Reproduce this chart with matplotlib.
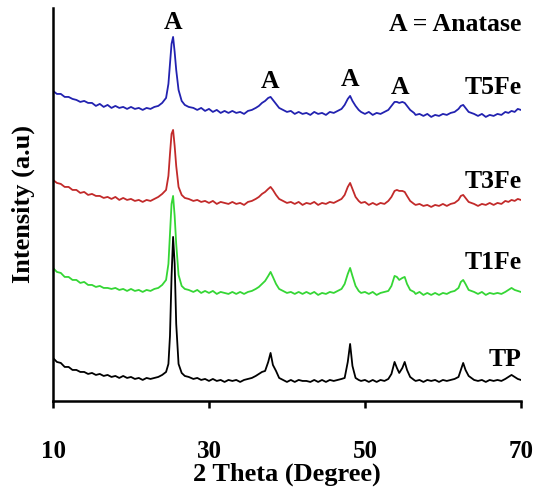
import matplotlib
matplotlib.use("Agg")
import matplotlib.pyplot as plt

plt.rcParams['font.family'] = ['Liberation Serif', 'DejaVu Serif']
plt.rcParams['font.weight'] = 'bold'

# 2 theta grid (degree)
two_theta = [
    10, 10.5, 11, 11.5, 12, 12.5, 13, 13.5, 14, 14.5, 15, 15.5, 16, 16.5, 17,
    17.5, 18, 18.5, 19, 19.5, 20, 20.5, 21, 21.5, 22, 22.5, 23, 23.5, 24,
    24.5, 24.8, 25.0, 25.2, 25.4, 25.6, 25.8, 26.1, 26.5, 26.9, 27.4,
    28, 28.5, 29, 29.5, 30, 30.5, 31, 31.5, 32, 32.5, 33, 33.5, 34, 34.5, 35, 35.5, 36,
    36.4, 36.8, 37.2, 37.6, 37.9, 38.2, 38.6, 39.0,
    39.5, 40, 40.5, 41, 41.5, 42, 42.5, 43, 43.5, 44, 44.5, 45, 45.5, 46, 46.5, 47,
    47.4, 47.8, 48.1, 48.4, 48.8, 49.2,
    49.5, 50, 50.5, 51, 51.5, 52, 52.5,
    53.0, 53.4, 53.8, 54.1, 54.4, 54.8, 55.1, 55.4, 55.8, 56.3,
    56.5, 57, 57.5, 58, 58.5, 59, 59.5, 60, 60.5, 61, 61.5,
    62.0, 62.3, 62.6, 62.9, 63.3, 64.0,
    64.5, 65, 65.5, 66, 66.5, 67, 67.5, 68,
    68.4, 68.8, 69.2, 69.6, 70.0,
]

# intensities, already stacked (arbitrary units)
t5fe = [
    311, 308, 308, 305, 305, 303, 302, 300, 301, 299, 299, 296, 298, 295, 297,
    294, 296, 294, 295, 293, 295, 293, 294, 292, 294, 293, 295, 296, 299,
    304, 318, 338, 358, 365, 350, 332, 312, 301, 297, 295,
    294, 292, 294, 291, 293, 290, 292, 289, 291, 289, 291, 289, 290, 288, 291, 292, 294,
    296, 299, 301, 304, 305, 302, 298, 294,
    292, 290, 291, 288, 290, 288, 289, 287, 290, 288, 289, 287, 290, 289, 291, 293,
    297, 303, 306, 301, 296, 292,
    290, 288, 290, 287, 289, 288, 290,
    292, 296, 300, 300, 299, 300, 299, 296, 292, 289,
    287, 288, 286, 288, 285, 287, 286, 288, 287, 289, 290,
    293, 296, 297, 294, 290, 288,
    286, 288, 285, 287, 286, 288, 287, 290,
    289, 291, 290, 293, 292,
]

t3fe = [
    222, 219, 218, 215, 215, 212, 212, 209, 210, 207, 208, 206, 206, 204, 205,
    203, 205, 202, 204, 202, 203, 201, 202, 200, 202, 201, 203, 205, 208,
    212, 226, 248, 268, 272, 256, 236, 215, 207, 204, 203,
    201, 202, 200, 201, 199, 201, 198, 200, 199, 198, 200, 198, 199, 197, 200, 201, 203,
    205, 208, 210, 213, 215, 212, 207, 203,
    201, 199, 200, 198, 200, 197, 199, 198, 200, 197, 199, 198, 200, 199, 201, 203,
    207, 215, 219, 213, 205, 201,
    199, 200, 197, 199, 197, 199, 198,
    201, 205, 211, 212, 211, 211, 210, 206, 201, 198,
    197, 198, 196, 197, 195, 197, 196, 198, 196, 198, 199,
    202, 206, 207, 204, 200, 198,
    196, 198, 197, 199, 197, 199, 198, 201,
    200, 202, 201, 203, 202,
]

t1fe = [
    134, 130, 129, 125, 125, 122, 122, 119, 120, 117, 117, 115, 116, 114, 114,
    113, 114, 112, 113, 111, 113, 111, 112, 110, 112, 111, 113, 114, 117,
    122, 138, 168, 198, 206, 186, 158, 127, 116, 113, 112,
    110, 112, 109, 111, 109, 111, 108, 110, 109, 108, 110, 108, 110, 108, 110, 111, 113,
    115, 118, 121, 126, 130, 125, 118, 113,
    111, 109, 110, 108, 110, 108, 110, 108, 110, 107, 109, 108, 110, 109, 111, 113,
    118, 128, 134, 126, 116, 111,
    109, 110, 108, 110, 107, 109, 110,
    111, 116, 126, 125, 122, 124, 125, 118, 112, 110,
    108, 110, 107, 109, 107, 109, 107, 109, 108, 110, 111,
    114, 120, 122, 118, 112, 110,
    108, 110, 107, 109, 108, 109, 108, 110,
    112, 114, 112, 111, 110,
]

tp = [
    44, 40, 39, 35, 35, 32, 32, 30, 30, 28, 29, 27, 28, 26, 27,
    25, 26, 24, 26, 24, 25, 23, 24, 22, 24, 23, 24, 25, 27,
    30, 38, 66, 125, 165, 138, 78, 38, 29, 26, 25,
    23, 24, 22, 23, 21, 23, 21, 22, 20, 22, 21, 22, 20, 22, 23, 24, 26,
    28, 30, 31, 40, 49, 37, 31, 24,
    22, 20, 22, 20, 22, 21, 21, 20, 22, 20, 22, 20, 22, 21, 22, 23,
    24, 40, 58, 36, 24, 22,
    21, 22, 20, 22, 20, 22, 21,
    23, 28, 40, 34, 29, 34, 40, 32, 25, 22,
    21, 22, 20, 22, 21, 22, 20, 22, 21, 22, 23,
    25, 32, 39, 32, 26, 22,
    21, 22, 20, 22, 21, 22, 21, 23,
    25, 27, 25, 23, 22,
]

sample_names = ['T5Fe', 'T3Fe', 'T1Fe', 'TP']
sample_label_y = [314, 220, 139, 42]
anatase_peaks = [25.4, 37.8, 48.1, 54.5]
anatase_label_y = [379, 320, 322, 314]

fig = plt.figure(figsize=(5.37, 4.95), dpi=100)
ax = fig.add_axes([0.0987, 0.19, 0.8713, 0.794])

ax.plot(two_theta, tp, color='black', lw=1.3)
ax.plot(two_theta, t1fe, color='#35d635', lw=1.3)
ax.plot(two_theta, t3fe, color='#c22a2a', lw=1.3)
ax.plot(two_theta, t5fe, color='#2222b0', lw=1.3)

ax.set_xlim(10, 70)
ax.set_ylim(1, 394)
ax.set_xticks([10, 30, 50, 70])
ax.set_yticks([])

for side in ['top', 'right']:
    ax.spines[side].set_visible(False)
for side in ['left', 'bottom']:
    ax.spines[side].set_linewidth(1.8)

ax.tick_params(axis='x', direction='out', length=5, width=1.8, pad=23, labelsize=18)
for lab in ax.get_xticklabels():
    lab.set_fontweight('bold')

ax.set_xlabel('2 Theta (Degree)', fontsize=19, fontweight='bold', labelpad=0)
ax.set_ylabel('Intensity (a.u)', fontsize=19, fontweight='bold', labelpad=13)

for name, yy in zip(sample_names, sample_label_y):
    ax.text(70.1, yy, name, ha='right', va='center', fontsize=18.5,
            fontweight='bold', clip_on=False)

for xx, yy in zip(anatase_peaks, anatase_label_y):
    ax.text(xx, yy, 'A', ha='center', va='center', fontsize=18.5, fontweight='bold')

ax.text(70.1, 377, 'A = Anatase', ha='right', va='center', fontsize=18.5,
        fontweight='bold', clip_on=False)

fig.savefig('out.png', dpi=100)
